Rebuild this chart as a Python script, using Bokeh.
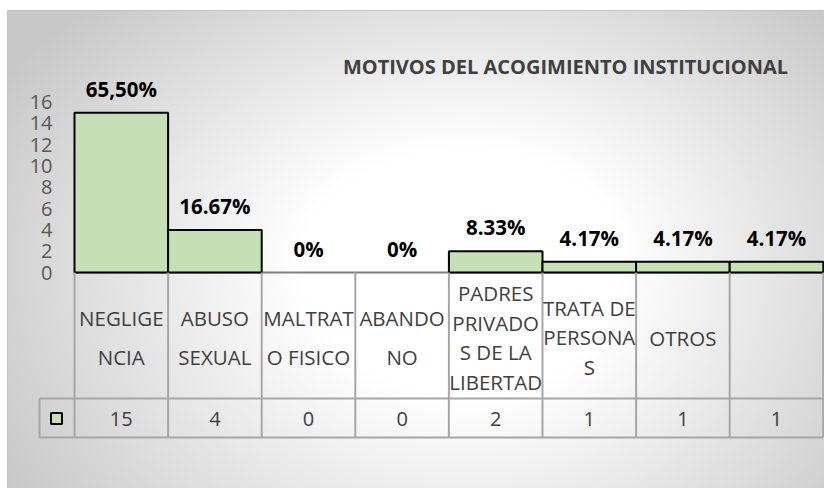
import numpy as np
from bokeh.plotting import figure
from bokeh.models import ColumnDataSource, Range1d
from bokeh.core.properties import value
from bokeh.embed import file_html
from bokeh.resources import INLINE

# ---------------- data ----------------
categories = ["NEGLIGE\nNCIA", "ABUSO\nSEXUAL", "MALTRAT\nO FISICO", "ABANDO\nNO",
              "PADRES\nPRIVADO\nS DE LA\nLIBERTAD", "TRATA DE\nPERSONA\nS", "OTROS", ""]
counts = [15, 4, 0, 0, 2, 1, 1, 1]
pct_labels = ["65,50%", "16.67%", "0%", "0%", "8.33%", "4.17%", "4.17%", "4.17%"]
y_ticks = [0, 2, 4, 6, 8, 10, 12, 14, 16]
title_text = "MOTIVOS DEL ACOGIMIENTO INSTITUCIONAL"

# ---------------- layout (page pixels) ----------------
FIG_W, FIG_H = 824, 488
FRAME_L, FRAME_T = 7, 10
PLOT_LEFT = 74.0      # px of first category edge
CAT_W = 93.6          # px per category
ZERO_Y = 272.0        # px of value 0
PX_UNIT = 10.65       # px per value unit

def dx(px):
    return (px - PLOT_LEFT) / CAT_W

def dy(py):
    return (ZERO_Y - py) / PX_UNIT

x0, x1 = dx(FRAME_L), dx(FIG_W)
y0, y1 = dy(FIG_H), dy(FRAME_T)

p = figure(width=FIG_W, height=FIG_H, output_backend="svg", toolbar_location=None,
           x_range=Range1d(x0, x1), y_range=Range1d(y0, y1),
           x_axis_type=None, y_axis_type=None,
           min_border_top=FRAME_T, min_border_left=FRAME_L,
           min_border_right=0, min_border_bottom=0)
p.grid.visible = False
p.border_fill_color = "white"
p.outline_line_color = "#c0c0c0"
p.outline_line_width = 1

# ---------------- background gradient ----------------
sub = 2
gw, gh = (FIG_W - FRAME_L) // sub + 1, (FIG_H - FRAME_T) // sub
xs = (np.arange(gw) + 0.5) * sub + FRAME_L
ys = (np.arange(gh) + 0.5) * sub + FRAME_T
X, Y = np.meshgrid(xs, ys)
cx, cy = 470.0, 260.0
rx = np.where(X < cx, 400.0, 360.0)
ry = np.where(Y < cy, 270.0, 330.0)
t = np.sqrt(((X - cx) / rx) ** 2 + ((Y - cy) / ry) ** 2)
f = np.clip((t - 0.42) / (1.35 - 0.42), 0, 1)
g = (255 - 55 * f).astype(np.uint32)
img = (255 << 24) | (g << 16) | (g << 8) | g
img = np.flipud(img).astype(np.uint32)
p.image_rgba(image=[img], x=x0, y=y0, dw=x1 - x0, dh=y1 - y0)

# ---------------- bars ----------------
n = len(counts)
centers = [i + 0.5 for i in range(n)]
src = ColumnDataSource(dict(
    x=centers, top=counts, cat=categories, pct=pct_labels,
    val=[str(c) for c in counts],
    lalpha=[1.0 if c > 0 else 0.0 for c in counts],
    lh=[1.36 if c.count("\n") == 1 else 1.06 for c in categories],
))

# axis line at zero
p.segment(x0=[0], x1=[n], y0=[0], y1=[0], line_color="#7f7f7f", line_width=2)

p.vbar(x="x", top="top", bottom=0, width=1.0, source=src,
       fill_color="#c5e0b4", line_color="black", line_width=2, line_alpha="lalpha")

# percentage labels
p.text(x="x", y="top", text="pct", source=src, y_offset=-24,
       text_align="center", text_baseline="middle",
       text_font=value("Open Sans"), text_font_style="bold",
       text_font_size="20.5px", text_color="black")

# y tick labels
p.text(x=[dx(52)] * len(y_ticks), y=y_ticks, text=[str(v) for v in y_ticks],
       text_align="right", text_baseline="middle",
       text_font=value("Open Sans"), text_font_size="20px", text_color="#595959")

# title
p.text(x=[dx(565)], y=[dy(66)], text=[title_text],
       text_align="center", text_baseline="middle",
       text_font=value("Open Sans"), text_font_style="bold",
       text_font_size="20px", text_color="#404040")

# ---------------- data table ----------------
row1_bottom = dy(398)
row2_bottom = dy(437)
left_key = dx(39)
grid_col = "#a6a6a6"
vx = list(range(n + 1))
p.segment(x0=vx, x1=vx, y0=[0] * len(vx), y1=[row2_bottom] * len(vx),
          line_color=grid_col, line_width=2)
p.segment(x0=[left_key, left_key], x1=[n, n], y0=[row1_bottom, row2_bottom],
          y1=[row1_bottom, row2_bottom], line_color=grid_col, line_width=2)
p.segment(x0=[left_key], x1=[left_key], y0=[row1_bottom], y1=[row2_bottom],
          line_color=grid_col, line_width=2)

# category labels
p.text(x="x", y=dy(337), text="cat", source=src,
       text_align="center", text_baseline="middle", text_line_height="lh",
       text_font=value("Open Sans"), text_font_size="20.5px", text_color="#404040")

# values row
p.text(x="x", y=dy(418), text="val", source=src,
       text_align="center", text_baseline="middle",
       text_font=value("Open Sans"), text_font_size="20px", text_color="#404040")

# legend key
p.scatter(x=[dx(56)], y=[dy(418)], marker="square", size=11,
          fill_color="#c5e0b4", line_color="black", line_width=2)

open("out.html", "w").write(file_html(p, INLINE))
